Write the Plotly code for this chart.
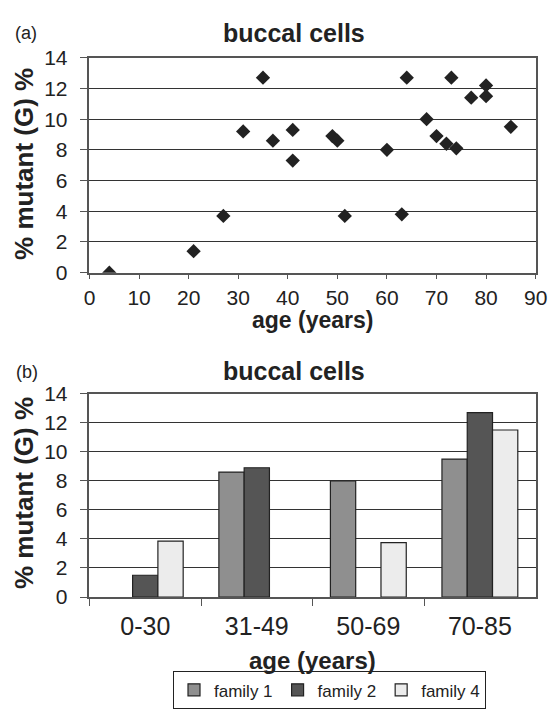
import plotly.graph_objects as go

W, H = 559, 722
OFF = 8  # the page body keeps its default 8px margin, so place things 8px up/left

# panel (a): scatter of age vs % mutant
AGE = [4, 21, 27, 31, 35, 37, 41, 41, 49, 50, 51.5, 60, 63, 64, 68, 70, 72, 74, 73, 77, 80, 80, 85]
MUTANT = [0, 1.4, 3.7, 9.2, 12.7, 8.6, 9.3, 7.3, 8.9, 8.6, 3.7, 8.0, 3.8, 12.7, 10.0, 8.9, 8.4, 8.1, 12.7, 11.4, 12.2, 11.5, 9.5]

# panel (b): grouped bars by age class
AGE_GROUPS = ["0-30", "31-49", "50-69", "70-85"]
FAMILY_1 = [None, 8.6, 8.0, 9.5]
FAMILY_2 = [1.5, 8.9, None, 12.7]
FAMILY_4 = [3.85, None, 3.75, 11.5]
FAMILY_NAMES = ["family 1", "family 2", "family 4"]
FAMILY_COLORS = ["#8f8f8f", "#555555", "#ececec"]

FONT = "Liberation Sans, Arial, sans-serif"


def px_x(px):
    return (px - OFF) / W


def py(px):
    return 1 - (px - OFF) / H


X_DOM = [px_x(86), px_x(547)]
Y_DOM_A = [py(269), py(47)]
Y_DOM_B = [py(604), py(394)]

fig = go.Figure()

fig.add_trace(go.Scatter(x=AGE, y=MUTANT, mode="markers", xaxis="x", yaxis="y",
                         marker=dict(symbol="diamond", size=11, color="#222222"),
                         showlegend=False))

for vals, name, col in zip([FAMILY_1, FAMILY_2, FAMILY_4], FAMILY_NAMES, FAMILY_COLORS):
    fig.add_trace(go.Bar(x=AGE_GROUPS, y=vals, name=name, xaxis="x2", yaxis="y2",
                         marker=dict(color=col, line=dict(color="#222222", width=1.2))))

line_style = dict(showline=True, linecolor="#555555", linewidth=1.5, mirror=True,
                  ticks="outside", tickcolor="#555555", zeroline=False,
                  ticklabeloverflow="allow")

fig.update_layout(
    width=W, height=H,
    margin=dict(l=0, r=0, t=0, b=0),
    paper_bgcolor="white", plot_bgcolor="white",
    font=dict(family=FONT, color="#222222"),
    barmode="group", bargap=0.32, bargroupgap=0,
    xaxis=dict(domain=X_DOM, anchor="y", range=[0, 90], dtick=10, ticklen=5,
               showgrid=False, **line_style,
               tickfont=dict(family=FONT, size=21, color="#222222")),
    yaxis=dict(domain=Y_DOM_A, anchor="x", range=[0, 14], dtick=2, ticklen=8,
               ticklabelstandoff=8,
               showgrid=True, gridcolor="#333333", gridwidth=1, **line_style,
               tickfont=dict(family=FONT, size=21, color="#222222")),
    xaxis2=dict(domain=X_DOM, anchor="y2", type="category", tickson="boundaries", ticklen=7,
                ticklabelstandoff=6,
                showgrid=False, **line_style,
                tickfont=dict(family=FONT, size=25, color="#222222")),
    yaxis2=dict(domain=Y_DOM_B, anchor="x2", range=[0, 14], dtick=2, ticklen=8,
                ticklabelstandoff=8,
                showgrid=True, gridcolor="#333333", gridwidth=1, **line_style,
                tickfont=dict(family=FONT, size=21, color="#222222")),
    legend=dict(orientation="h", x=px_x(334), xanchor="center", y=py(720), yanchor="bottom",
                bordercolor="#222222", borderwidth=1, itemwidth=30, bgcolor="white",
                font=dict(family=FONT, size=17, color="#222222")),
)

labels = [
    ("(a)", 20, 21, 18, False, 0),
    ("(b)", 21, 372, 18, False, 0),
    ("buccal cells", 297, 21, 25, True, 0),
    ("buccal cells", 297, 371, 25, True, 0),
    ("age (years)", 316, 318, 23, True, 0),
    ("age (years)", 316, 670, 24, True, 0),
    ("% mutant (G) %", 19, 157, 26, True, -90),
    ("% mutant (G) %", 19, 497, 26, True, -90),
]
for text, x, y, size, bold, angle in labels:
    fig.add_annotation(text=f"<b>{text}</b>" if bold else text, xref="paper", yref="paper",
                       x=px_x(x), y=py(y), xanchor="center", yanchor="middle",
                       showarrow=False, textangle=angle,
                       font=dict(family=FONT, size=size, color="#222222"))

fig.write_html("out.html")
